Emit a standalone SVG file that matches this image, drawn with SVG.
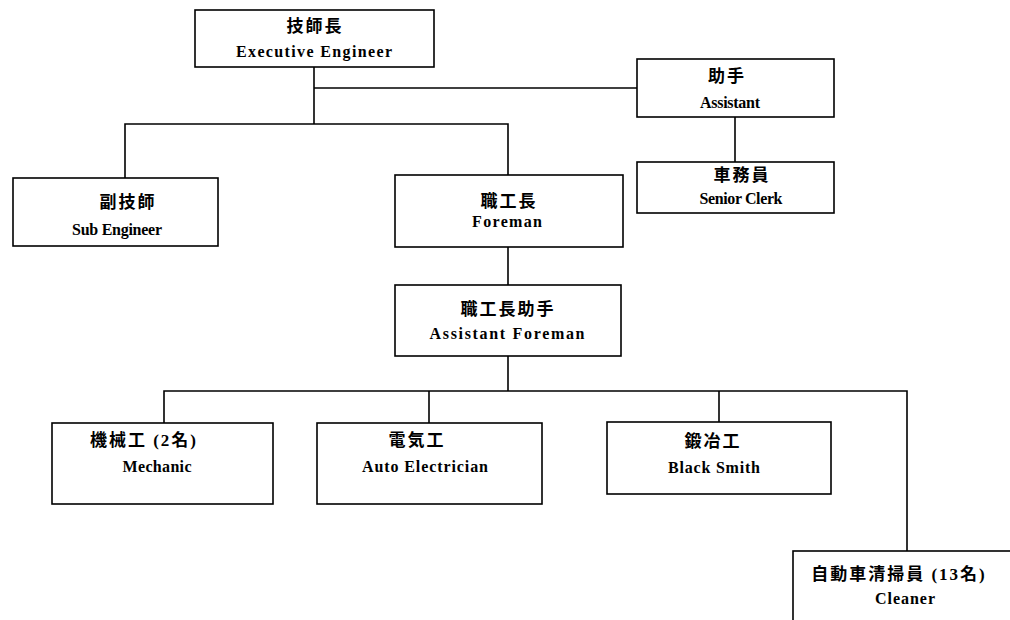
<svg xmlns="http://www.w3.org/2000/svg" width="1010" height="620" viewBox="0 0 1010 620">
<style>
.box{fill:#fff;stroke:#000;stroke-width:1.6}
.ln{fill:none;stroke:#000;stroke-width:1.6}
.zh{font-family:"Liberation Serif","Noto Sans CJK JP",serif;font-weight:bold;font-size:17px;letter-spacing:2px;text-anchor:middle;fill:#000}
.en{font-family:"Liberation Serif",serif;font-weight:bold;font-size:16px;text-anchor:middle;fill:#000}
</style>
<rect width="1010" height="620" fill="#fff"/>
<g id="connectors">
<polyline class="ln" points="314,67 314,124"/>
<polyline class="ln" points="314,88 637,88"/>
<polyline class="ln" points="125,178 125,124 508,124 508,175"/>
<polyline class="ln" points="735,117 735,162"/>
<polyline class="ln" points="508,247 508,285"/>
<polyline class="ln" points="508,356 508,391"/>
<polyline class="ln" points="164,423 164,391 907,391 907,551"/>
<polyline class="ln" points="429,391 429,423"/>
<polyline class="ln" points="719,391 719,422"/>
</g>
<g id="executive-engineer">
<rect class="box" x="195" y="10" width="239" height="57"/>
<text class="zh" x="315" y="32">技師長</text>
<text class="en" x="314" y="57" textLength="156" lengthAdjust="spacing">Executive Engineer</text>
</g>
<g id="assistant">
<rect class="box" x="637" y="59" width="197" height="58"/>
<text class="zh" x="727" y="82">助手</text>
<text class="en" x="730" y="108" textLength="60" lengthAdjust="spacing">Assistant</text>
</g>
<g id="senior-clerk">
<rect class="box" x="637" y="162" width="197" height="51"/>
<text class="zh" x="742" y="181">車務員</text>
<text class="en" x="741" y="204" textLength="83" lengthAdjust="spacing">Senior Clerk</text>
</g>
<g id="sub-engineer">
<rect class="box" x="13" y="178" width="205" height="68"/>
<text class="zh" x="128" y="208">副技師</text>
<text class="en" x="117" y="235" textLength="90" lengthAdjust="spacing">Sub Engineer</text>
</g>
<g id="foreman">
<rect class="box" x="395" y="175" width="228" height="72"/>
<text class="zh" x="509" y="207">職工長</text>
<text class="en" x="507" y="227" textLength="70" lengthAdjust="spacing">Foreman</text>
</g>
<g id="assistant-foreman">
<rect class="box" x="395" y="285" width="226" height="71"/>
<text class="zh" x="508" y="315">職工長助手</text>
<text class="en" x="507" y="339" textLength="155" lengthAdjust="spacing">Assistant Foreman</text>
</g>
<g id="mechanic">
<rect class="box" x="52" y="423" width="221" height="81"/>
<text class="zh" x="144" y="446">機械工 (2名)</text>
<text class="en" x="157" y="472" textLength="69" lengthAdjust="spacing">Mechanic</text>
</g>
<g id="auto-electrician">
<rect class="box" x="317" y="423" width="225" height="81"/>
<text class="zh" x="417" y="446">電気工</text>
<text class="en" x="425" y="472" textLength="126" lengthAdjust="spacing">Auto Electrician</text>
</g>
<g id="black-smith">
<rect class="box" x="607" y="422" width="224" height="72"/>
<text class="zh" x="713" y="447">鍛冶工</text>
<text class="en" x="714" y="473" textLength="92" lengthAdjust="spacing">Black Smith</text>
</g>
<g id="cleaners">
<rect class="box" x="793" y="551" width="230" height="80"/>
<text class="zh" x="899" y="580">自動車清掃員 (13名)</text>
<text class="en" x="905" y="604" textLength="60" lengthAdjust="spacing">Cleaner</text>
</g>
</svg>
